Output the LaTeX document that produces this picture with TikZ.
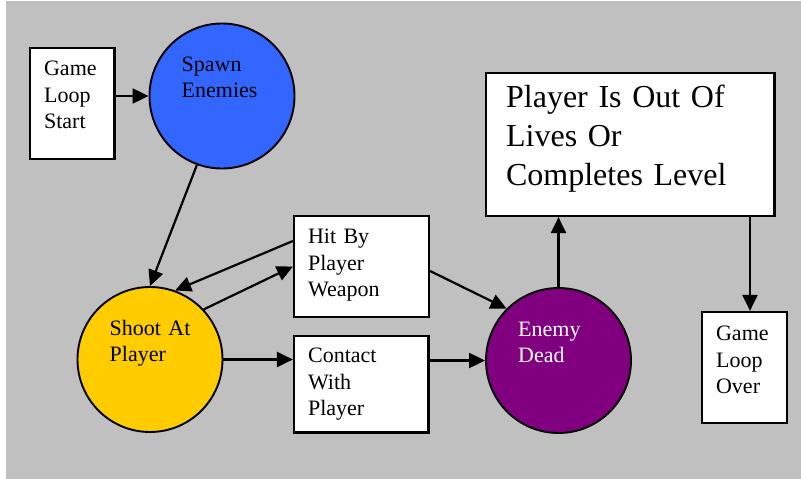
\documentclass[tikz,border=0pt]{standalone}
\usepackage{fontspec}
\setmainfont{Liberation Serif}
\usepackage{tikz}
\usetikzlibrary {
  positioning,
  arrows.meta,
}
\definecolor{bggray}{HTML}{C0C0C0}
\definecolor{spawnblue}{HTML}{3366FF}
\definecolor{shootyellow}{HTML}{FFCC00}
\definecolor{deadpurple}{HTML}{800080}
\newcommand{\smallfont}{\fontsize{22pt}{26.3pt}\selectfont}
\newcommand{\bigfont}{\fontsize{32pt}{39pt}\selectfont}
\tikzset{
  box/.style = {
    rectangle,
    draw = black,
    fill = white,
    line width = 2.2pt,
    inner sep = 0pt
  },
  disc/.style = {
    circle,
    draw = black,
    fill = #1,
    line width = 1.9pt,
    minimum size = 145pt,
    inner sep = 0pt
  },
  txt/.style = {
    anchor = base west,
    align = left,
    text width = #1,
    inner sep = 0pt,
    font = \smallfont
  },
  con/.style = {
    -{Triangle[length = 16pt, width = 15pt]},
    line width = 2.2pt
  }
}

\begin{document}
\begin{tikzpicture}[x = 1pt, y = 1pt]
  \useasboundingbox (0, 0) rectangle (801, -479);
  \fill[bggray] (6, -1) rectangle (801, -479);

  % Inicio y generacion.
  \node[box, minimum width = 84.5pt, minimum height = 111pt] (GLS) at (72.25, -103.5) {};
  \node[txt = 70pt] (GLSt) at ([shift = {(15pt, -29pt)}]GLS.north west) {Game\\Loop\\Start};
  \node[disc = spawnblue] (Sp) at (222, -96) {};
  \node[txt = 100pt] (Spt) at ([shift = {(-40.5pt, 24.5pt)}]Sp.center) {Spawn\\Enemies};

  % Disparo y golpes.
  \node[disc = shootyellow] (Sh) at (150, -359.5) {};
  \node[txt = 100pt] (Sht) at ([shift = {(-40.5pt, 24.5pt)}]Sh.center) {Shoot At\\Player};
  \node[box, minimum width = 135pt, minimum height = 101pt] (Hit) at (361.5, -266.5) {};
  \node[txt = 120pt] (Hitt) at ([shift = {(15pt, -29pt)}]Hit.north west) {Hit By\\Player\\Weapon};
  \node[box, minimum width = 134.5pt, minimum height = 96.5pt] (Co) at (361.25, -384.25) {};
  \node[txt = 120pt] (Cot) at ([shift = {(15pt, -28pt)}]Co.north west) {Contact\\With\\Player};

  % Enemigo muerto y fin.
  \node[disc = deadpurple] (De) at (558.5, -360.5) {};
  \node[txt = 100pt, text = white] (Det) at ([shift = {(-40.5pt, 24.5pt)}]De.center) {Enemy\\Dead};
  \node[box, minimum width = 288.5pt, minimum height = 143pt] (Pl) at (630.25, -144.5) {};
  \node[txt = 270pt, font = \bigfont] (Plt) at ([shift = {(21pt, -36pt)}]Pl.north west)
    {Player Is Out Of\\Lives Or\\Completes Level};
  \node[box, minimum width = 85pt, minimum height = 111pt] (Ov) at (744.5, -367.5) {};
  \node[txt = 70pt] (Ovt) at ([shift = {(15pt, -30pt)}]Ov.north west) {Game\\Loop\\Over};
  \coordinate (OvIn) at ([xshift = 5.5pt]Ov.north);

  % Conexiones.
  \draw[con] (GLS.east |- Sp.west) -- (Sp.west);
  \draw[con] (Sp.250) -- (Sh.north);
  \draw[con] ([yshift = 25.5pt]Hit.west) -- (Sh.70);
  \draw[con] (Sh.43) -- (Hit.west);
  \draw[con] ([yshift = -4.5pt]Hit.east) -- (De.135);
  \draw[con] (Sh.east) -- (Sh.east -| Co.west);
  \draw[con] (Co.east |- De.west) -- (De.west);
  \draw[con] (De.north) -- (De.north |- Pl.south);
  \draw[con] (OvIn |- Pl.south) -- (OvIn);
\end{tikzpicture}
\end{document}
